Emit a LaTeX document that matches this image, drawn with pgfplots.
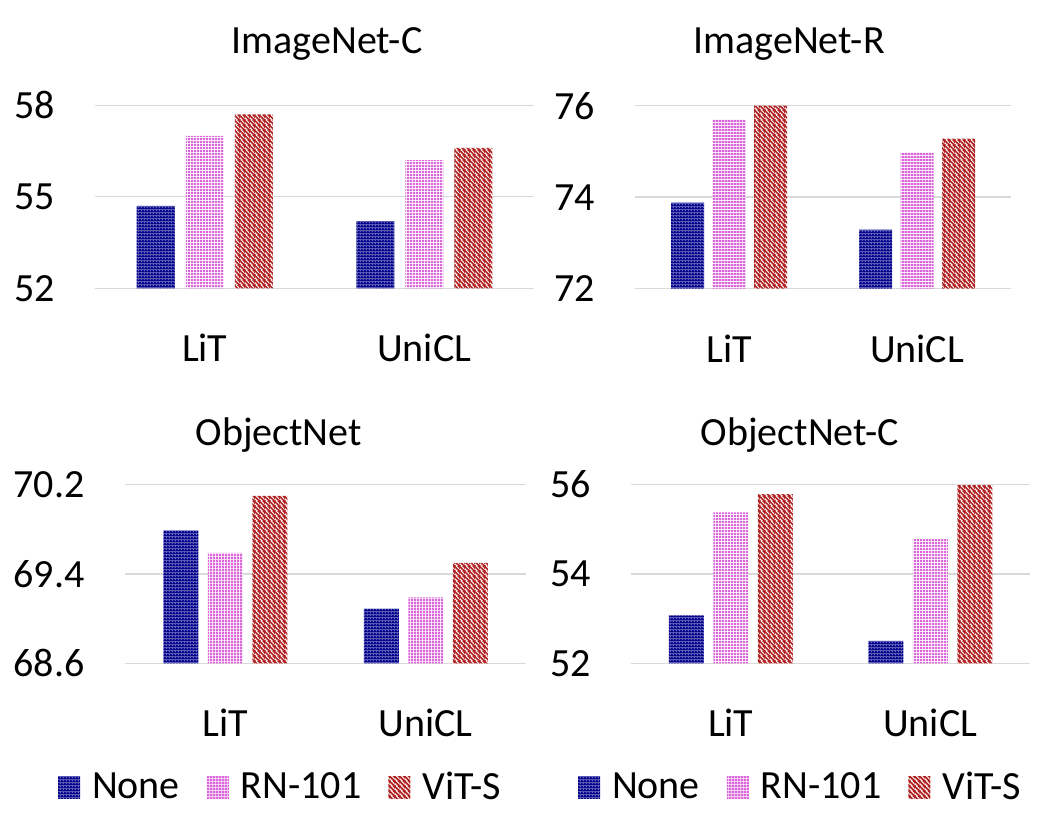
\documentclass[border=0pt]{standalone}
\usepackage{pgfplots}
\pgfplotsset{compat=1.18}
\usepackage{fontspec}
\setmainfont{Carlito}
\usetikzlibrary{patterns.meta}
\definecolor{cnone}{RGB}{0,0,140}
\definecolor{crn}{RGB}{218,102,218}
\definecolor{cvit}{RGB}{178,34,34}
\definecolor{cgrid}{RGB}{217,217,217}

\tikzdeclarepattern{name=pnone, type=colored,
  tile size={(1.4pt,1.4pt)}, bounding box={(0pt,0pt) and (1.4pt,1.4pt)},
  code={\fill[cnone] (0pt,0pt) rectangle (1.4pt,1.4pt);
        \fill[white] (0.5pt,0.5pt) rectangle (0.9pt,0.9pt);}}
\tikzdeclarepattern{name=prn, type=colored,
  tile size={(1.6pt,1.6pt)}, bounding box={(0pt,0pt) and (1.6pt,1.6pt)},
  code={\fill[white] (0pt,0pt) rectangle (1.6pt,1.6pt);
        \fill[crn] (0pt,0pt) rectangle (1.4pt,1.4pt);}}
\tikzdeclarepattern{name=pvit, type=colored,
  tile size={(2.5pt,2.5pt)}, bounding box={(0pt,0pt) and (2.5pt,2.5pt)},
  code={\fill[white] (0pt,0pt) rectangle (2.5pt,2.5pt);
        \draw[cvit, line width=1pt] (-1pt,1pt) -- (1pt,-1pt);
        \draw[cvit, line width=1pt] (-0.5pt,3pt) -- (3pt,-0.5pt);
        \draw[cvit, line width=1pt] (1.5pt,3.5pt) -- (3.5pt,1.5pt);}}

\pgfplotsset{
  sqleg/.style={legend image code/.code={\fill[##1] (0pt,-5.5pt) rectangle (11pt,5.5pt);}},
  panel/.style={
    scale only axis, anchor=south west,
    ybar, clip=true,
    axis line style={draw=none},
    ymajorgrids, major grid style={cgrid, line width=0.7pt},
    tick style={draw=none},
    xmin=-0.5, xmax=1.5, xtick={0,1}, xticklabels={LiT,UniCL},
    tick label style={font=\fontsize{20}{24}\selectfont},
    xticklabel style={anchor=base, yshift=-32.5pt},
    yticklabel style={anchor=east, inner sep=0pt, xshift=-20pt},
    /pgf/number format/assume math mode=true,
  },
  pleg/.style={
    legend columns=-1,
    legend style={at={(#1)}, anchor=center, draw=none, fill=none,
      inner sep=0pt, outer sep=0pt,
      font=\fontsize{20}{24}\selectfont,
      /tikz/every odd column/.append style={column sep=4pt},
      /tikz/every even column/.append style={column sep=11.5pt}},
  },
}

\begin{document}
\begin{tikzpicture}
% ImageNet-C
\begin{axis}[panel, at={(47.5pt,270.85pt)}, width=219.5pt, height=91.5pt,
  ymin=52, ymax=58, ytick={52,55,58}, yticklabels={52,55,58},
  bar width=19pt, ybar=5.5pt]
\addplot[draw=none, pattern=pnone] coordinates {(0,54.7) (1,54.2)};
\addplot[draw=none, pattern=prn] coordinates {(0,57.0) (1,56.2)};
\addplot[draw=none, pattern=pvit] coordinates {(0,57.7) (1,56.6)};
\end{axis}
% ImageNet-R
\begin{axis}[panel, at={(317.5pt,270.65pt)}, width=188pt, height=91.5pt,
  ymin=72, ymax=76, ytick={72,74,76}, yticklabels={72,74,76},
  bar width=16.5pt, ybar=4.25pt]
\addplot[draw=none, pattern=pnone] coordinates {(0,73.88) (1,73.29)};
\addplot[draw=none, pattern=prn] coordinates {(0,75.70) (1,74.98)};
\addplot[draw=none, pattern=pvit] coordinates {(0,76.0) (1,75.28)};
\end{axis}
% ObjectNet
\begin{axis}[panel, pleg={0.3908,-0.694}, at={(62.5pt,83.35pt)}, width=200.5pt, height=89.3pt,
  ymin=68.6, ymax=70.2, ytick={68.6,69.4,70.2}, yticklabels={68.6,69.4,70.2},
  bar width=17.5pt, ybar=4.75pt]
\addplot[draw=none, pattern=pnone, sqleg] coordinates {(0,69.79) (1,69.09)};
\addplot[draw=none, pattern=prn, sqleg] coordinates {(0,69.59) (1,69.19)};
\addplot[draw=none, pattern=pvit, sqleg] coordinates {(0,70.10) (1,69.50)};
\legend{None,RN-101,ViT-S}
\end{axis}
% ObjectNet-C
\begin{axis}[panel, pleg={0.4278,-0.6926}, at={(315.5pt,83.35pt)}, width=199.5pt, height=89.5pt,
  ymin=52, ymax=56, ytick={52,54,56}, yticklabels={52,54,56},
  bar width=17.5pt, ybar=4.75pt]
\addplot[draw=none, pattern=pnone, sqleg] coordinates {(0,53.07) (1,52.5)};
\addplot[draw=none, pattern=prn, sqleg] coordinates {(0,55.37) (1,54.78)};
\addplot[draw=none, pattern=pvit, sqleg] coordinates {(0,55.78) (1,55.98)};
\legend{None,RN-101,ViT-S}
\end{axis}
\begin{scope}[every node/.style={anchor=base, font=\fontsize{20}{24}\selectfont, inner sep=0pt}]
\node at (163.5pt,388pt) {ImageNet-C};
\node at (394.5pt,388pt) {ImageNet-R};
\node at (139.35pt,192.15pt) {ObjectNet};
\node at (400pt,192.15pt) {ObjectNet-C};
\end{scope}
\pgfresetboundingbox
\useasboundingbox (0pt,0pt) rectangle (531.5pt,415pt);
\end{tikzpicture}
\end{document}
